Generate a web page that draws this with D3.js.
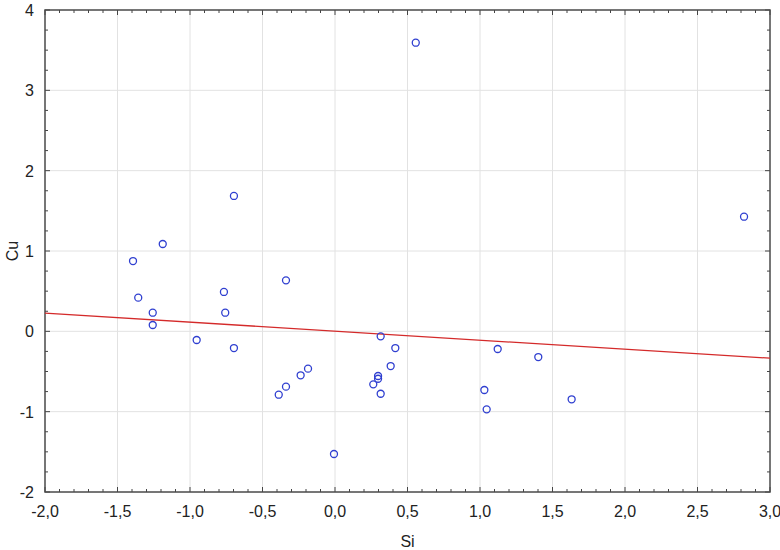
<!DOCTYPE html>
<html>
<head>
<meta charset="utf-8">
<script src="https://cdn.jsdelivr.net/npm/d3@7"></script>
<style>
  body { margin: 0; background: #fff; }
  text { font-family: "Liberation Sans", Arial, sans-serif; fill: #222; }
</style>
</head>
<body>
<div id="chart"></div>
<script>
// data (standardized Si vs Cu)
var siValues = [0.557, -0.697, -1.188, -1.393, -1.357, -1.257, -1.257, -0.766, -0.757, -0.338,
                -0.954, -0.697, -0.388, -0.338, -0.237, -0.186, -0.007, 0.315, 0.416, 0.384,
                0.297, 0.297, 0.264, 0.315, 1.122, 1.402, 1.030, 1.046, 1.632, 2.821];
var cuValues = [3.593, 1.685, 1.087, 0.875, 0.419, 0.232, 0.079, 0.490, 0.232, 0.635,
                -0.108, -0.208, -0.789, -0.689, -0.547, -0.465, -1.527, -0.062, -0.208, -0.432,
                -0.556, -0.590, -0.660, -0.777, -0.220, -0.320, -0.730, -0.971, -0.846, 1.427];
var xTicks = [-2.0, -1.5, -1.0, -0.5, 0.0, 0.5, 1.0, 1.5, 2.0, 2.5, 3.0];
var xTickLabels = ["-2,0", "-1,5", "-1,0", "-0,5", "0,0", "0,5", "1,0", "1,5", "2,0", "2,5", "3,0"];
var yTicks = [-2, -1, 0, 1, 2, 3, 4];
var yTickLabels = ["-2", "-1", "0", "1", "2", "3", "4"];
var xTitle = "Si";
var yTitle = "Cu";

var width = 780, height = 550;
// plot box ("top" is taken by window.top, so use own names)
var plotL = 45, plotR = 770, plotT = 10, plotB = 492;

var x = d3.scaleLinear().domain([-2, 3]).range([plotL, plotR]);
var y = d3.scaleLinear().domain([-2, 4]).range([plotB, plotT]);

var svg = d3.select("#chart").append("svg")
  .attr("width", width)
  .attr("height", height);

// grid
svg.append("g").selectAll("line").data(xTicks.slice(1, -1)).enter().append("line")
  .attr("x1", function(d){ return x(d); })
  .attr("x2", function(d){ return x(d); })
  .attr("y1", plotT).attr("y2", plotB)
  .attr("stroke", "#e2e2e2").attr("stroke-width", 1);
svg.append("g").selectAll("line").data(yTicks.slice(1, -1)).enter().append("line")
  .attr("y1", function(d){ return y(d); })
  .attr("y2", function(d){ return y(d); })
  .attr("x1", plotL).attr("x2", plotR)
  .attr("stroke", "#e2e2e2").attr("stroke-width", 1);

// minor ticks: 0.1 on x, 0.25 on y
var xMinor = d3.range(-20, 31).map(function(i){ return i / 10; });
var yMinor = d3.range(-8, 17).map(function(i){ return i / 4; });
var tickColor = "#444";

function isMajor(v, step){ return Math.abs(v / step - Math.round(v / step)) < 1e-6; }

var ticks = svg.append("g").attr("stroke", tickColor).attr("stroke-width", 1);
xMinor.forEach(function(v){
  var len = isMajor(v, 0.5) ? 5 : 3;
  ticks.append("line").attr("x1", x(v)).attr("x2", x(v)).attr("y1", plotB).attr("y2", plotB - len);
  ticks.append("line").attr("x1", x(v)).attr("x2", x(v)).attr("y1", plotT).attr("y2", plotT + len);
});
yMinor.forEach(function(v){
  var len = isMajor(v, 1) ? 5 : 3;
  ticks.append("line").attr("y1", y(v)).attr("y2", y(v)).attr("x1", plotL).attr("x2", plotL + len);
  ticks.append("line").attr("y1", y(v)).attr("y2", y(v)).attr("x1", plotR).attr("x2", plotR - len);
});

// frame
svg.append("rect")
  .attr("x", plotL).attr("y", plotT)
  .attr("width", plotR - plotL).attr("height", plotB - plotT)
  .attr("fill", "none")
  .attr("stroke", "#4a4a4a")
  .attr("stroke-width", 1.5);

// tick labels
svg.append("g").selectAll("text").data(xTicks).enter().append("text")
  .attr("x", function(d){ return x(d); })
  .attr("y", plotB + 25)
  .attr("text-anchor", "middle")
  .attr("font-size", 16)
  .text(function(d, i){ return xTickLabels[i]; });
svg.append("g").selectAll("text").data(yTicks).enter().append("text")
  .attr("x", plotL - 11)
  .attr("y", function(d){ return y(d) + 6; })
  .attr("text-anchor", "end")
  .attr("font-size", 16)
  .text(function(d, i){ return yTickLabels[i]; });

// axis titles
svg.append("text")
  .attr("x", (plotL + plotR) / 2)
  .attr("y", 547)
  .attr("text-anchor", "middle")
  .attr("font-size", 16)
  .text(xTitle);
svg.append("text")
  .attr("transform", "translate(18," + ((plotT + plotB) / 2) + ") rotate(-90)")
  .attr("text-anchor", "middle")
  .attr("font-size", 16)
  .text(yTitle);

// least squares fit line
var mx = d3.mean(siValues), my = d3.mean(cuValues);
var sxy = 0, sxx = 0;
for (var i = 0; i < siValues.length; i++){
  sxy += (siValues[i] - mx) * (cuValues[i] - my);
  sxx += (siValues[i] - mx) * (siValues[i] - mx);
}
var slope = sxy / sxx;
var icpt = my - slope * mx;
svg.append("line")
  .attr("x1", x(-2)).attr("y1", y(icpt + slope * -2))
  .attr("x2", x(3)).attr("y2", y(icpt + slope * 3))
  .attr("stroke", "#d42a2a")
  .attr("stroke-width", 1.3);

// points
svg.append("g").selectAll("circle").data(siValues).enter().append("circle")
  .attr("cx", function(d){ return x(d); })
  .attr("cy", function(d, i){ return y(cuValues[i]); })
  .attr("r", 3.5)
  .attr("fill", "none")
  .attr("stroke", "#2f3fd0")
  .attr("stroke-width", 1.3);
</script>
</body>
</html>
